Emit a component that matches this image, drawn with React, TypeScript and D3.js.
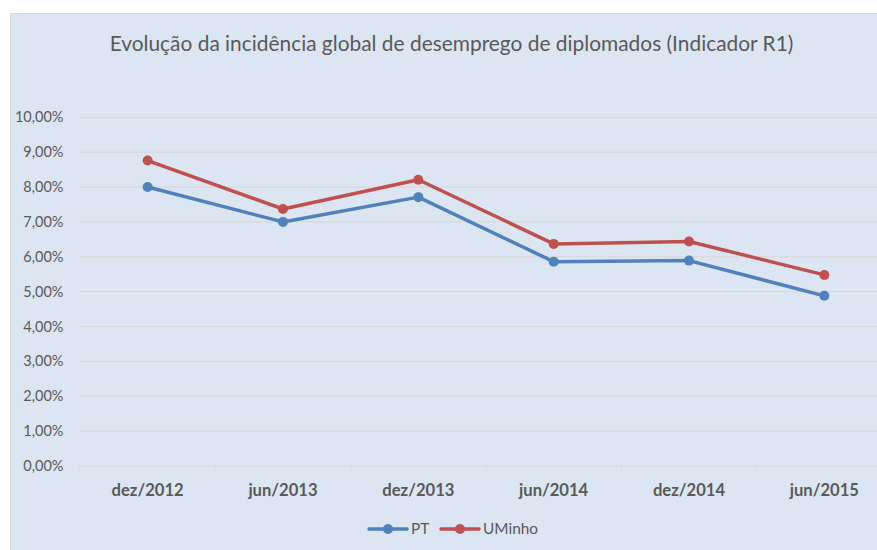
import { scaleBand, scaleLinear, line } from 'd3'

const categories = ['dez/2012', 'jun/2013', 'dez/2013', 'jun/2014', 'dez/2014', 'jun/2015']
const ptValues = [8.0, 7.0, 7.71, 5.86, 5.89, 4.88]
const uminhoValues = [8.76, 7.37, 8.21, 6.37, 6.44, 5.48]
const yTicks = [0, 1, 2, 3, 4, 5, 6, 7, 8, 9, 10]

const series = [
	{ name: 'PT', values: ptValues, color: '#4f81bd' },
	{ name: 'UMinho', values: uminhoValues, color: '#c0504d' },
]

const title = 'Evolução da incidência global de desemprego de diplomados (Indicador R1)'
const font = 'Lato, "Open Sans", sans-serif'

export default function App() {
	const width = 877
	const height = 550
	const plot = { left: 80, right: 892, top: 117.3, bottom: 466 }

	const x = scaleBand<string>().domain(categories).range([plot.left, plot.right])
	const y = scaleLinear().domain([0, 10]).range([plot.bottom, plot.top])
	const cx = (c: string) => (x(c) ?? 0) + x.bandwidth() / 2

	const path = line<number>()
		.x((_, i) => cx(categories[i]))
		.y((d) => y(d))

	const fmt = (t: number) => `${t.toFixed(2).replace('.', ',')}%`

	return (
		<svg
			width={width}
			height={height}
			style={{ position: 'absolute', left: 0, top: 0, display: 'block' }}
			fontFamily={font}
		>
			<rect x={0} y={0} width={width} height={height} fill="#ffffff" />
			<rect x={10.5} y={13.5} width={900} height={600} fill="#dce6f2" stroke="#d9d9d9" />

			<text x={451.5} y={50.5} textAnchor="middle" fontSize={20.9} fill="#595959">
				{title}
			</text>

			{yTicks.map((t) => (
				<g key={t}>
					<line x1={plot.left} x2={plot.right} y1={y(t)} y2={y(t)} stroke="#d9d9d9" strokeWidth={1.2} />
					<text x={63.5} y={y(t)} dy="0.35em" textAnchor="end" fontSize={14.5} fill="#595959">
						{fmt(t)}
					</text>
				</g>
			))}

			{categories.map((c) => (
				<g key={c}>
					<line x1={x(c) ?? 0} x2={x(c) ?? 0} y1={plot.bottom} y2={plot.bottom + 5} stroke="#d9d9d9" />
					<text x={cx(c)} y={495.5} textAnchor="middle" fontSize={16.6} fontWeight="bold" fill="#595959">
						{c}
					</text>
				</g>
			))}

			{series.map((s) => (
				<g key={s.name}>
					<path d={path(s.values) ?? ''} fill="none" stroke={s.color} strokeWidth={3.5} strokeLinejoin="round" />
					{s.values.map((v, i) => (
						<circle key={i} cx={cx(categories[i])} cy={y(v)} r={5} fill={s.color} />
					))}
				</g>
			))}

			{series.map((s, i) => {
				const lx = [369, 441][i]
				return (
					<g key={s.name}>
						<line x1={lx} x2={lx + 38} y1={529} y2={529} stroke={s.color} strokeWidth={3.5} strokeLinecap="round" />
						<circle cx={lx + 19} cy={529} r={5} fill={s.color} />
						<text x={lx + 42} y={529} dy="0.35em" fontSize={15.4} fill="#595959">
							{s.name}
						</text>
					</g>
				)
			})}
		</svg>
	)
}
